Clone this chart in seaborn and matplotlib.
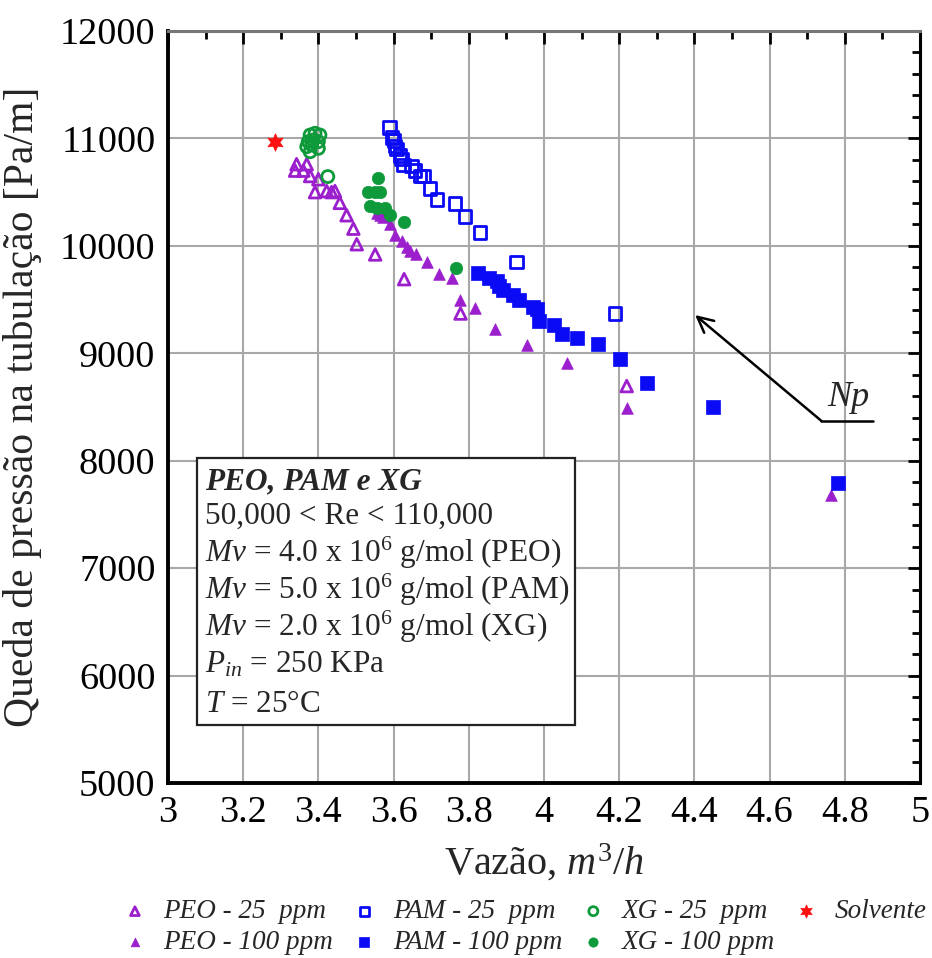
import numpy as np
import pandas as pd
import seaborn as sns
import matplotlib.pyplot as plt
from matplotlib.ticker import MultipleLocator, FuncFormatter
from matplotlib.patches import Rectangle

# ---- data: flow rate [m3/h] vs pressure drop [Pa/m] ----
peo25_x = [3.338, 3.342, 3.360, 3.369, 3.378, 3.391, 3.400, 3.422, 3.435, 3.444,
           3.457, 3.475, 3.493, 3.502, 3.551, 3.628, 3.778, 4.220]
peo25_y = [10700, 10760, 10700, 10760, 10650, 10500, 10620, 10510, 10500, 10510,
           10400, 10285, 10160, 10015, 9920, 9690, 9370, 8695]

peo100_x = [3.555, 3.564, 3.573, 3.590, 3.604, 3.622, 3.635, 3.644, 3.660, 3.690,
            3.722, 3.755, 3.777, 3.816, 3.870, 3.956, 4.062, 4.220, 4.763]
peo100_y = [10310, 10285, 10270, 10200, 10100, 10045, 9985, 9955, 9920, 9850,
            9740, 9705, 9500, 9425, 9225, 9075, 8910, 8490, 7685]

pam25_x = [3.589, 3.595, 3.601, 3.604, 3.608, 3.617, 3.621, 3.626, 3.648, 3.657,
           3.670, 3.679, 3.697, 3.715, 3.763, 3.790, 3.830, 3.927, 4.189]
pam25_y = [11100, 11010, 10980, 10930, 10900, 10840, 10810, 10750, 10745, 10700,
           10650, 10650, 10535, 10430, 10395, 10275, 10125, 9850, 9370]

pam100_x = [3.825, 3.855, 3.874, 3.881, 3.892, 3.918, 3.934, 3.972, 3.981, 3.988,
            4.027, 4.047, 4.089, 4.144, 4.202, 4.273, 4.450, 4.783]
pam100_y = [9750, 9705, 9675, 9625, 9590, 9540, 9500, 9435, 9415, 9300,
            9260, 9175, 9145, 9090, 8945, 8725, 8500, 7795]

xg25_x = [3.378, 3.391, 3.404, 3.373, 3.386, 3.400, 3.369, 3.382, 3.378, 3.400, 3.425]
xg25_y = [11032, 11048, 11032, 10970, 10985, 10970, 10923, 10940, 10876, 10908, 10645]

xg100_x = [3.533, 3.551, 3.564, 3.559, 3.537, 3.555, 3.577, 3.590, 3.628, 3.766]
xg100_y = [10500, 10500, 10500, 10635, 10370, 10350, 10355, 10285, 10220, 9790]

solv_x = [3.285]
solv_y = [10970]

x_ticks = [3, 3.2, 3.4, 3.6, 3.8, 4, 4.2, 4.4, 4.6, 4.8, 5]
y_ticks = [5000, 6000, 7000, 8000, 9000, 10000, 11000, 12000]

# ---- style ----
sns.set_theme(style="white")
plt.rcParams["font.family"] = ["Liberation Serif", "DejaVu Serif"]
plt.rcParams["mathtext.fontset"] = "custom"
plt.rcParams["mathtext.rm"] = "Liberation Serif"
plt.rcParams["mathtext.it"] = "Liberation Serif:italic"
plt.rcParams["mathtext.bf"] = "Liberation Serif:bold"

PURPLE = "#9B1FCC"
BLUE = "#0A0AF5"
GREEN = "#0E9A3A"
RED = "#FF1010"

fig = plt.figure(figsize=(9.32, 9.58), dpi=100)
ax = fig.add_axes([168 / 932, (958 - 783) / 958, 752 / 932, 752 / 958])

series = [
    (peo25_x, peo25_y, "^", 70, PURPLE, True, "PEO - 25  ppm"),
    (peo100_x, peo100_y, "^", 70, PURPLE, False, "PEO - 100 ppm"),
    (pam25_x, pam25_y, "s", 80, BLUE, True, "PAM - 25  ppm"),
    (pam100_x, pam100_y, "s", 95, BLUE, False, "PAM - 100 ppm"),
    (xg25_x, xg25_y, "o", 75, GREEN, True, "XG - 25  ppm"),
    (xg100_x, xg100_y, "o", 80, GREEN, False, "XG - 100 ppm"),
    (solv_x, solv_y, (6, 1, 0), 160, RED, False, "Solvente"),
]

for xs, ys, mk, size, col, hollow, lab in series:
    df = pd.DataFrame({"x": xs, "y": ys})
    if hollow:
        sns.scatterplot(data=df, x="x", y="y", ax=ax, marker=mk, s=size,
                        color=col, facecolor="none", edgecolor=col,
                        linewidth=2.0, label=lab, zorder=3)
    else:
        sns.scatterplot(data=df, x="x", y="y", ax=ax, marker=mk, s=size,
                        color=col, edgecolor=col, linewidth=0.5,
                        label=lab, zorder=3)

handles, labels = ax.get_legend_handles_labels()
if ax.get_legend() is not None:
    ax.get_legend().remove()

# ---- axes ----
ax.set_xlim(3, 5)
ax.set_ylim(5000, 12000)
ax.set_xticks(x_ticks)
ax.set_yticks(y_ticks)
ax.xaxis.set_minor_locator(MultipleLocator(0.1))
ax.yaxis.set_minor_locator(MultipleLocator(200))
ax.xaxis.set_major_formatter(FuncFormatter(lambda v, p: f"{v:g}"))
ax.yaxis.set_major_formatter(FuncFormatter(lambda v, p: f"{v:.0f}"))
ax.grid(True, which="major", color="#a8a8a8", lw=1.5, zorder=0)
ax.set_axisbelow(True)
ax.tick_params(which="both", direction="in", top=True, right=True,
               colors="black", labelsize=27.5, pad=9)
ax.tick_params(which="major", length=9, width=2)
ax.tick_params(which="minor", length=6, width=2)
for side, lw, c in [("left", 2.8, "black"), ("bottom", 2.8, "black"),
                    ("right", 2.2, "black"), ("top", 2.2, "#777777")]:
    ax.spines[side].set_linewidth(lw)
    ax.spines[side].set_color(c)
    ax.spines[side].set_visible(True)

ax.set_xlabel(r"Vazão, $m^3/h$", fontsize=29, labelpad=9)
ax.set_ylabel("Queda de pressão na tubulação [Pa/m]", fontsize=30)
ax.yaxis.set_label_coords(-0.168, 0.5)

# ---- information box ----
ax.add_patch(Rectangle((0.0386, 0.077), 0.5025, 0.355, transform=ax.transAxes,
                       facecolor="white", edgecolor="#222222", lw=1.6, zorder=4))
tx = 0.049
ax.text(tx, 0.400, "PEO, PAM e XG", transform=ax.transAxes, fontsize=22.5,
        fontweight="bold", fontstyle="italic", va="center", ha="left", zorder=5)
info_lines = [
    (0.354, r"50,000 < Re < 110,000"),
    (0.306, r"$Mv$ = 4.0 x 10$^{6}$ g/mol (PEO)"),
    (0.257, r"$Mv$ = 5.0 x 10$^{6}$ g/mol (PAM)"),
    (0.207, r"$Mv$ = 2.0 x 10$^{6}$ g/mol (XG)"),
    (0.157, r"$P_{in}$ = 250 KPa"),
    (0.104, r"$T$ = 25°C"),
]
for yy, s in info_lines:
    ax.text(tx, yy, s, transform=ax.transAxes, fontsize=22.5,
            va="center", ha="left", zorder=5)

# ---- Np annotation ----
ax.annotate("", xy=(4.402, 9356), xytext=(4.738, 8370),
            arrowprops=dict(arrowstyle="->", lw=1.8, color="black",
                            mutation_scale=28, shrinkA=0, shrinkB=0), zorder=5)
ax.plot([4.738, 4.876], [8370, 8370], color="black", lw=1.8, zorder=5)
ax.text(4.809, 8590, "Np", fontsize=26, fontstyle="italic",
        ha="center", va="center", zorder=5)

# ---- legend ----
fig.legend(handles, labels, loc="lower center", bbox_to_anchor=(0.56, -0.022),
           ncol=4, frameon=False, markerscale=0.75,
           prop={"family": "Liberation Serif", "style": "italic", "size": 19.5},
           handletextpad=0.4, columnspacing=0.5, labelspacing=0.2,
           handlelength=1.3)

fig.savefig("out.png", dpi=100)
